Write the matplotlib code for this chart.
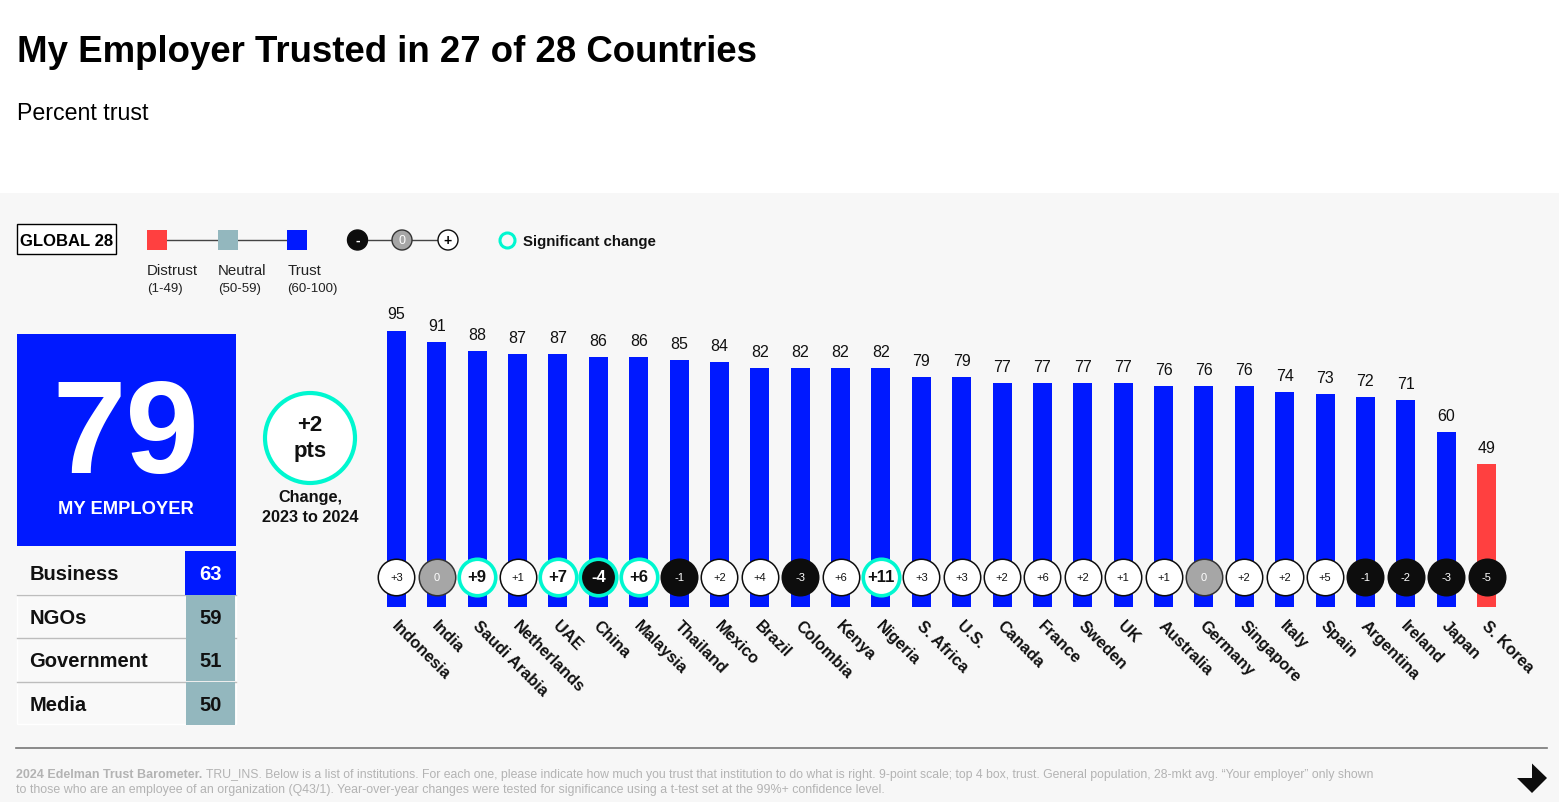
import matplotlib.pyplot as plt
from matplotlib.patches import Rectangle, Circle, Polygon

plt.rcParams["font.family"] = ["Liberation Sans", "DejaVu Sans"]

countries = ["Indonesia", "India", "Saudi Arabia", "Netherlands", "UAE", "China", "Malaysia",
             "Thailand", "Mexico", "Brazil", "Colombia", "Kenya", "Nigeria", "S. Africa",
             "U.S.", "Canada", "France", "Sweden", "UK", "Australia", "Germany", "Singapore",
             "Italy", "Spain", "Argentina", "Ireland", "Japan", "S. Korea"]
trust = [95, 91, 88, 87, 87, 86, 86, 85, 84, 82, 82, 82, 82, 79,
         79, 77, 77, 77, 77, 76, 76, 76, 74, 73, 72, 71, 60, 49]
change = [3, 0, 9, 1, 7, -4, 6, -1, 2, 4, -3, 6, 11, 3,
          3, 2, 6, 2, 1, 1, 0, 2, 2, 5, -1, -2, -3, -5]
significant = ["Saudi Arabia", "UAE", "China", "Malaysia", "Nigeria"]

institutions = ["Business", "NGOs", "Government", "Media"]
institution_trust = [63, 59, 51, 50]

BLUE = "#0019ff"
RED = "#ff4040"
NEUTRAL = "#93b7be"
TEAL = "#00f7d0"
BLACK = "#0d0d0d"
GREY = "#a6a6a6"
PANEL = "#f7f7f7"
W, H = 1559, 803


def trust_colour(v):
    if v < 50:
        return RED
    if v < 60:
        return NEUTRAL
    return BLUE


def signed(v):
    return f"+{v}" if v > 0 else str(v)


fig = plt.figure(figsize=(W / 100, H / 100), dpi=100, facecolor="white")

# page furniture, in pixel coords
bg = fig.add_axes([0, 0, 1, 1])
bg.set_xlim(0, W)
bg.set_ylim(H - 1, -1)
bg.axis("off")

bg.add_patch(Rectangle((0, 193), W, H - 193, fc=PANEL, ec="none"))
bg.text(17.5, 51.5, "My Employer Trusted in 27 of 28 Countries", fontsize=26.4, fontweight="bold",
        va="center", color="black")
bg.text(17, 112, "Percent trust", fontsize=16.7, va="center", color="black")

# legend
bg.add_patch(Rectangle((17.5, 223.5), 99, 30, fc="white", ec="black", lw=1))
bg.text(67, 240, "GLOBAL 28", fontsize=12, fontweight="bold", ha="center", va="center")
bg.plot([157, 297], [240, 240], color="#444444", lw=1, zorder=1)
legend_rows = [(147, RED, "Distrust", "(1-49)"), (218, NEUTRAL, "Neutral", "(50-59)"),
               (287, BLUE, "Trust", "(60-100)")]
for x, c, name, rng in legend_rows:
    bg.add_patch(Rectangle((x, 230), 20, 20, fc=c, ec="none", zorder=2))
    bg.text(x + (1 if x > 280 else 0), 270, name, fontsize=10.8, va="center", color="#222222")
    bg.text(x, 288, rng, fontsize=9.5, va="center", color="#222222")
bg.plot([357, 448], [240, 240], color="#444444", lw=1, zorder=1)
for x, fc, ec, txt, tc in [(357.5, BLACK, BLACK, "-", "white"), (402, GREY, "#333333", "0", "white"),
                           (448, "white", BLACK, "+", "black")]:
    bg.add_patch(Circle((x, 240), 10, fc=fc, ec=ec, lw=1, zorder=2))
    bg.text(x, 240, txt, fontsize=10 if txt != "0" else 9, fontweight="bold" if txt != "0" else "normal",
            ha="center", va="center", color=tc, zorder=3)
bg.add_patch(Circle((507.5, 240.5), 7.5, fc=PANEL, ec=TEAL, lw=2.2))
bg.text(523, 241, "Significant change", fontsize=10.8, fontweight="bold", va="center", color="#111111")

# headline tile
bg.add_patch(Rectangle((17, 334), 219, 212, fc=BLUE, ec="none"))
bg.text(126, 438, "79", fontsize=95, fontweight="bold", color="white", ha="center", va="center")
bg.text(126, 509, "MY EMPLOYER", fontsize=13.2, fontweight="bold", color="white", ha="center", va="center")

# institution table
row_tops = [551, 594.5, 638, 681.5]
row_h = 43.5
bg.add_patch(Rectangle((17, 594), 219, 130, fc="#f9f9f9", ec="white", lw=1))
for top, name, v in zip(row_tops, institutions, institution_trust):
    if v >= 60:
        bg.add_patch(Rectangle((185, top), 51, row_h, fc=trust_colour(v), ec="none", zorder=2))
    else:
        bg.add_patch(Rectangle((186, top), 49, row_h - 0.5, fc=trust_colour(v), ec="none", zorder=2))
    bg.text(29.5, top + row_h / 2 + 1, name, fontsize=14.5, fontweight="bold", va="center", color="#111111")
    bg.text(210.5, top + row_h / 2 + 1, str(v), fontsize=14.5, fontweight="bold", ha="center", va="center",
            color="white" if v >= 60 else "#111111", zorder=3)
for top in row_tops[1:]:
    bg.plot([17, 236], [top, top], color="#bdbdbd", lw=1, zorder=1)

# change badge
bg.add_patch(Circle((310, 438), 45, fc="white", ec=TEAL, lw=3))
bg.text(310, 425, "+2", fontsize=16, fontweight="bold", ha="center", va="center", color="#111111")
bg.text(310, 451, "pts", fontsize=16, fontweight="bold", ha="center", va="center", color="#111111")
bg.text(310, 497, "Change,", fontsize=11.7, fontweight="bold", ha="center", va="center", color="#111111")
bg.text(310, 517, "2023 to 2024", fontsize=11.7, fontweight="bold", ha="center", va="center", color="#111111")

# footer
bg.plot([16, 1547], [748, 748], color="#777777", lw=1.2)
bg.text(16, 774, "2024 Edelman Trust Barometer.", fontsize=9, fontweight="bold", va="center", color="#b3b3b3")
bg.text(206, 774, "TRU_INS. Below is a list of institutions. For each one, please indicate how much you trust that "
        "institution to do what is right. 9-point scale; top 4 box, trust. General population, 28-mkt avg. "
        "\u201cYour employer\u201d only shown", fontsize=8.8, va="center", color="#b3b3b3")
bg.text(16, 789, "to those who are an employee of an organization (Q43/1). Year-over-year changes were tested for "
        "significance using a t-test set at the 99%+ confidence level.", fontsize=8.88, va="center", color="#b3b3b3")
bg.add_patch(Polygon([(1517, 778), (1532, 778), (1532, 763.5), (1547, 778), (1532, 793)], fc=BLACK, ec="none"))

# bars, y runs 0-100 over 290.5px with the baseline at pixel 607
ax = fig.add_axes([376.3 / W, (H - 607.5) / H, 1130.4 / W, 290.5 / H])
ax.patch.set_alpha(0)
xs = list(range(len(countries)))
ax.bar(xs, trust, width=19 / 40.37, color=[trust_colour(v) for v in trust], zorder=1)
ax.set_xlim(-0.5, 27.5)
ax.set_ylim(0, 100)
for s in ax.spines.values():
    s.set_visible(False)
ax.set_yticks([])
ax.set_xticks(xs)
ax.set_xticklabels([])
ax.tick_params(length=0)

for x, v in zip(xs, trust):
    ax.annotate(str(v), (x, v), xytext=(0, 6.5), textcoords="offset points", ha="center", va="bottom",
                fontsize=11.5, color="#111111", annotation_clip=False)

# change markers sit at a fixed height across the bars
MARK_Y = 10.2
for x, name, d in zip(xs, countries, change):
    sig = name in significant
    fc = "white" if d > 0 else (BLACK if d < 0 else GREY)
    ec = TEAL if sig else (BLACK if d != 0 else "#333333")
    ax.scatter([x], [MARK_Y], s=690, c=fc, edgecolors=ec, linewidths=2.6 if sig else 1.1, zorder=3, clip_on=False)
    tc = "white" if d <= 0 else "#111111"
    if sig:
        ax.text(x, MARK_Y, signed(d), fontsize=12, fontweight="bold", ha="center", va="center", color=tc, zorder=4)
    else:
        ax.text(x, MARK_Y, signed(d), fontsize=8, ha="center", va="center", color=tc, zorder=4)
    ax.annotate(name, (x, 0), xytext=(2, -8), textcoords="offset points", rotation=-45, rotation_mode="anchor",
                ha="left", va="top", fontsize=11.7, fontweight="bold", color="#111111", annotation_clip=False)

fig.savefig("out.png", dpi=100)
